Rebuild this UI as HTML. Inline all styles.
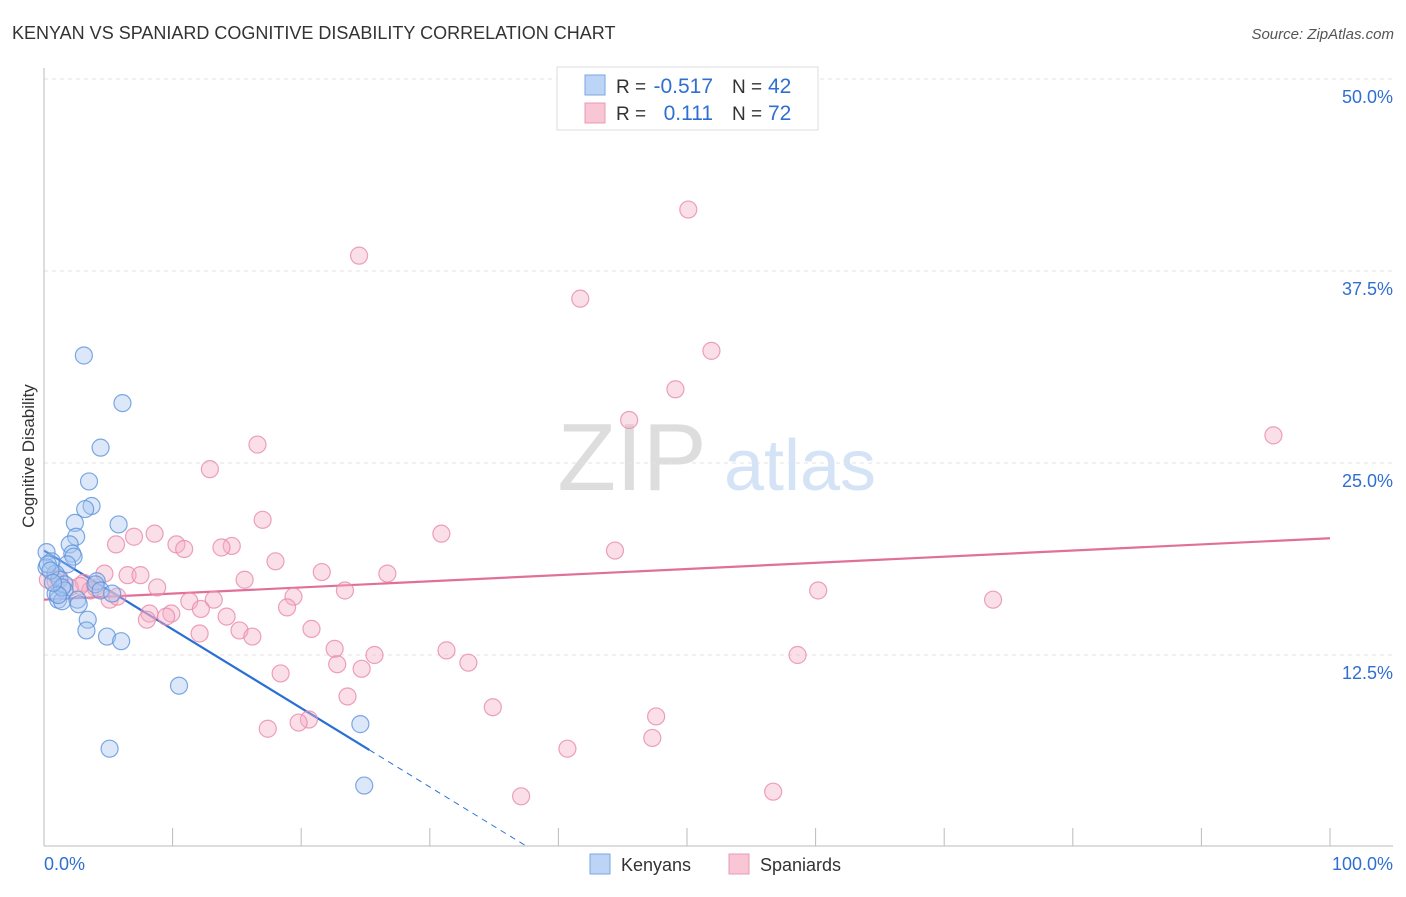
<!DOCTYPE html>
<html><head><meta charset="utf-8"><style>
body{margin:0;background:#fff;font-family:"Liberation Sans",sans-serif}
svg text{font-family:"Liberation Sans",sans-serif}
</style></head><body>
<svg id="chart" width="1406" height="892" xmlns="http://www.w3.org/2000/svg">
<text x="12" y="39" font-size="18" fill="#333">KENYAN VS SPANIARD COGNITIVE DISABILITY CORRELATION CHART</text>
<text x="1394" y="39" font-size="15" fill="#555" text-anchor="end" font-style="italic">Source: ZipAtlas.com</text>
<text transform="translate(34,456) rotate(-90)" font-size="17" fill="#333" text-anchor="middle">Cognitive Disability</text>
<g>
<text x="632" y="490" font-size="96" fill="#ddd" font-family="Liberation Serif" text-anchor="middle">ZIP</text>
<text x="800" y="490" font-size="72" fill="#d4e3f5" text-anchor="middle">atlas</text>
</g>
<g id="grid"></g><g id="axes"></g><g id="trends"></g><g id="points"></g>
<g>
<rect x="557" y="67" width="261" height="63" fill="#fff" stroke="#ddd"/>
<rect x="585" y="75" width="20" height="20" fill="#bcd4f5" stroke="#7aa7e0"/>
<rect x="585" y="103" width="20" height="20" fill="#f8c6d5" stroke="#eb98b4"/>
<text x="616" y="93" font-size="19" fill="#333">R =</text>
<text x="713" y="93" font-size="21" fill="#2f6fd0" text-anchor="end">-0.517</text>
<text x="732" y="93" font-size="19" fill="#333">N =</text>
<text x="768" y="93" font-size="21" fill="#2f6fd0">42</text>
<text x="616" y="120" font-size="19" fill="#333">R =</text>
<text x="713" y="120" font-size="21" fill="#2f6fd0" text-anchor="end">0.111</text>
<text x="732" y="120" font-size="19" fill="#333">N =</text>
<text x="768" y="120" font-size="21" fill="#2f6fd0">72</text>
</g>
<g>
<rect x="590" y="854" width="20" height="20" fill="#bcd4f5" stroke="#7aa7e0"/>
<text x="621" y="871" font-size="18" fill="#333">Kenyans</text>
<rect x="729" y="854" width="20" height="20" fill="#f8c6d5" stroke="#eb98b4"/>
<text x="760" y="871" font-size="18" fill="#333">Spaniards</text>
</g>
</svg>
<script>
const yTicks=[12.5,25,37.5,50];
const yTickLabels=["12.5%","25.0%","37.5%","50.0%"];
const xTickLabels=["0.0%","100.0%"];
const kenyanX=[3.1,6.1,4.4,3.5,3.7,3.2,2.4,5.8,2.5,2.0,2.2,0.2,2.3,0.6,1.8,0.2,0.9,1.2,1.6,4.1,4.0,4.4,5.3,0.9,1.6,1.1,1.4,2.6,2.7,3.4,3.3,4.9,6.0,10.5,5.1,24.6,24.9,0.3,0.5,1.4,1.1,0.7];
const kenyanY=[32.0,28.9,26.0,23.8,22.2,22.0,21.1,21.0,20.2,19.7,19.1,19.2,18.9,18.6,18.4,18.2,17.8,17.4,17.1,17.3,17.1,16.7,16.5,16.5,16.7,16.1,16.0,16.1,15.8,14.8,14.1,13.7,13.4,10.5,6.4,8.0,4.0,18.4,18.0,16.9,16.4,17.2];
const spanX=[50.1,24.5,41.7,51.9,49.1,45.5,95.6,16.6,12.9,17.0,30.9,8.6,7.0,5.6,10.3,10.9,14.6,13.8,44.4,18.0,26.7,21.6,15.6,6.5,4.7,7.5,8.8,23.4,60.2,19.4,73.8,5.1,5.7,13.2,11.3,18.9,12.2,9.9,8.2,9.5,14.2,8.0,20.8,15.2,16.2,12.1,22.6,31.3,25.7,58.6,33.0,22.8,24.7,18.4,23.6,34.9,47.6,20.6,19.8,17.4,47.3,40.7,37.1,56.7,3.1,3.6,4.0,1.2,2.0,0.3,0.9,2.8];
const spanY=[41.5,38.5,35.7,32.3,29.8,27.8,26.8,26.2,24.6,21.3,20.4,20.4,20.2,19.7,19.7,19.4,19.6,19.5,19.3,18.6,17.8,17.9,17.4,17.7,17.8,17.7,16.9,16.7,16.7,16.3,16.1,16.1,16.3,16.1,16.0,15.6,15.5,15.2,15.2,15.0,15.0,14.8,14.2,14.1,13.7,13.9,12.9,12.8,12.5,12.5,12.0,11.9,11.6,11.3,9.8,9.1,8.5,8.3,8.1,7.7,7.1,6.4,3.3,3.6,17.2,16.7,16.9,17.5,16.9,17.4,17.3,17.0];
const kenyanTrend=[19.3,-0.513];
const spanTrend=[16.1,0.04];
const NS="http://www.w3.org/2000/svg";
const X=v=>44+v*12.86, Y=v=>847-v*15.36;
function mk(t,a,p){const e=document.createElementNS(NS,t);for(const k in a)e.setAttribute(k,a[k]);document.getElementById(p).appendChild(e);return e;}
yTicks.forEach((t,i)=>{
 const l=mk('line',{x1:44,x2:1393,y1:Y(t),y2:Y(t),stroke:'#e3e3e3','stroke-dasharray':'4,4'},'grid');
 
 
 const tx=mk('text',{x:1393,y:Y(t)+24,'font-size':18,fill:'#2f6fd0','text-anchor':'end'},'grid');
 tx.textContent=yTickLabels[i];
 
 
});
const ax=mk('line',{x1:44,x2:44,y1:68,y2:846,stroke:'#bbb'},'axes');


const bx=mk('line',{x1:44,x2:1393,y1:846,y2:846,stroke:'#bbb'},'axes');


for(let i=1;i<=10;i++){const t=mk('line',{x1:X(i*10),x2:X(i*10),y1:828,y2:846,stroke:'#bbb'},'axes');
 
 }
[[0,'start',44],[100,'end',1393]].forEach((d,i)=>{const t=mk('text',{x:d[2],y:870,'font-size':18,fill:'#2f6fd0','text-anchor':d[1]},'axes');t.textContent=xTickLabels[i];
 
 });
function dots(xs,ys,fill,stroke,name){xs.forEach((x,i)=>{const c=mk('circle',{cx:X(x),cy:Y(ys[i]),r:8.5,fill:fill,'fill-opacity':0.4,stroke:stroke,'stroke-width':1.2,'stroke-opacity':0.8},'points');
 
 });}
dots(spanX,spanY,'#f5b0c5','#e88aa9','spaniard-point');
dots(kenyanX,kenyanY,'#a8c6f0','#5c94dc','kenyan-point');
const kEnd=25.3, kZero=-kenyanTrend[0]/kenyanTrend[1];
const kl=mk('line',{x1:X(0),y1:Y(kenyanTrend[0]),x2:X(kEnd),y2:Y(kenyanTrend[0]+kenyanTrend[1]*kEnd),stroke:'#2a6fd6','stroke-width':2.2},'trends');


const kd=mk('line',{x1:X(kEnd),y1:Y(kenyanTrend[0]+kenyanTrend[1]*kEnd),x2:X(kZero),y2:Y(0),stroke:'#2a6fd6','stroke-width':1,'stroke-dasharray':'6,5'},'trends');


const sl=mk('line',{x1:X(0),y1:Y(spanTrend[0]),x2:X(100),y2:Y(spanTrend[0]+spanTrend[1]*100),stroke:'#e0709a','stroke-width':2.2},'trends');


</script>
</body></html>
